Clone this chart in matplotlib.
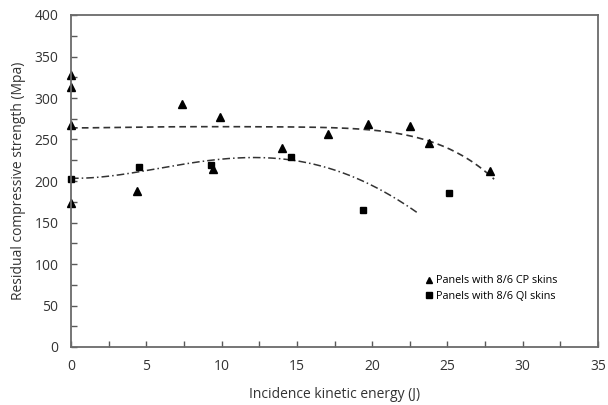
import numpy as np
import matplotlib
matplotlib.use("Agg")
import matplotlib.pyplot as plt
from matplotlib.ticker import MultipleLocator

plt.rcParams['font.family'] = ['Open Sans', 'DejaVu Sans']

# CP skins (triangles)
cp_x = [0, 0, 0, 0, 4.4, 7.4, 9.9, 9.4, 14.0, 17.1, 19.7, 22.5, 23.8, 27.8]
cp_y = [328, 313, 268, 174, 188, 293, 277, 215, 240, 257, 269, 266, 246, 212]
# QI skins (squares)
qi_x = [0, 4.5, 9.3, 14.6, 19.4, 25.1]
qi_y = [203, 217, 219, 229, 165, 185]

# trend curves
cp_fit_x = [0, 5, 10, 15, 17.5, 19.6, 22.45, 23.8, 25.5, 26.6, 28.1]
cp_fit_y = [264, 265, 265.5, 265, 264, 262, 256, 246, 236, 224, 202]
qi_fit_x = [0, 4.6, 9, 13.4, 15.2, 17.4, 19.6, 21.8, 23.1]
qi_fit_y = [203, 213, 222, 227, 225, 217, 195, 175, 162]

fig = plt.figure(figsize=(6.08, 4.05), dpi=100)
ax = fig.add_axes([71/608, 1-347/405, (598-71)/608, (347-15)/405])

c1 = np.polyfit(cp_fit_x, cp_fit_y, 5)
xs1 = np.linspace(min(cp_fit_x), max(cp_fit_x), 200)
ax.plot(xs1, np.polyval(c1, xs1), color='#333333', lw=1.2, dashes=(4, 2.5))
c2 = np.polyfit(qi_fit_x, qi_fit_y, 4)
xs2 = np.linspace(min(qi_fit_x), max(qi_fit_x), 200)
ax.plot(xs2, np.polyval(c2, xs2), color='#333333', lw=1.1, dashes=(5, 2, 1, 2))

ax.plot(cp_x, cp_y, '^', color='black', ms=5.5, ls='none', clip_on=False,
        label='Panels with 8/6 CP skins')
ax.plot(qi_x, qi_y, 's', color='black', ms=4.6, ls='none', clip_on=False,
        label='Panels with 8/6 QI skins')

ax.set_xlim(0, 35)
ax.set_ylim(0, 400)
ax.xaxis.set_major_locator(MultipleLocator(5))
ax.xaxis.set_minor_locator(MultipleLocator(2.5))
ax.yaxis.set_major_locator(MultipleLocator(50))
ax.yaxis.set_minor_locator(MultipleLocator(25))
ax.tick_params(which='both', direction='in', length=4, width=1, color='#595959',
               labelsize=10, labelcolor='#333333', pad=9)
for s in ax.spines.values():
    s.set_color('#6a6a6a')
    s.set_linewidth(1.3)

ax.set_xlabel('Incidence kinetic energy (J)', fontsize=10, color='#333333', labelpad=9)
ax.set_ylabel('Residual compressive strength (Mpa)', fontsize=10, color='#333333', labelpad=6)

leg = ax.legend(loc='upper left', bbox_to_anchor=(0.655, 0.245), frameon=False,
                fontsize=7.8, handlelength=0.6, handletextpad=0.3, labelspacing=0.45,
                markerscale=0.85)

fig.savefig('out.png', dpi=100)
